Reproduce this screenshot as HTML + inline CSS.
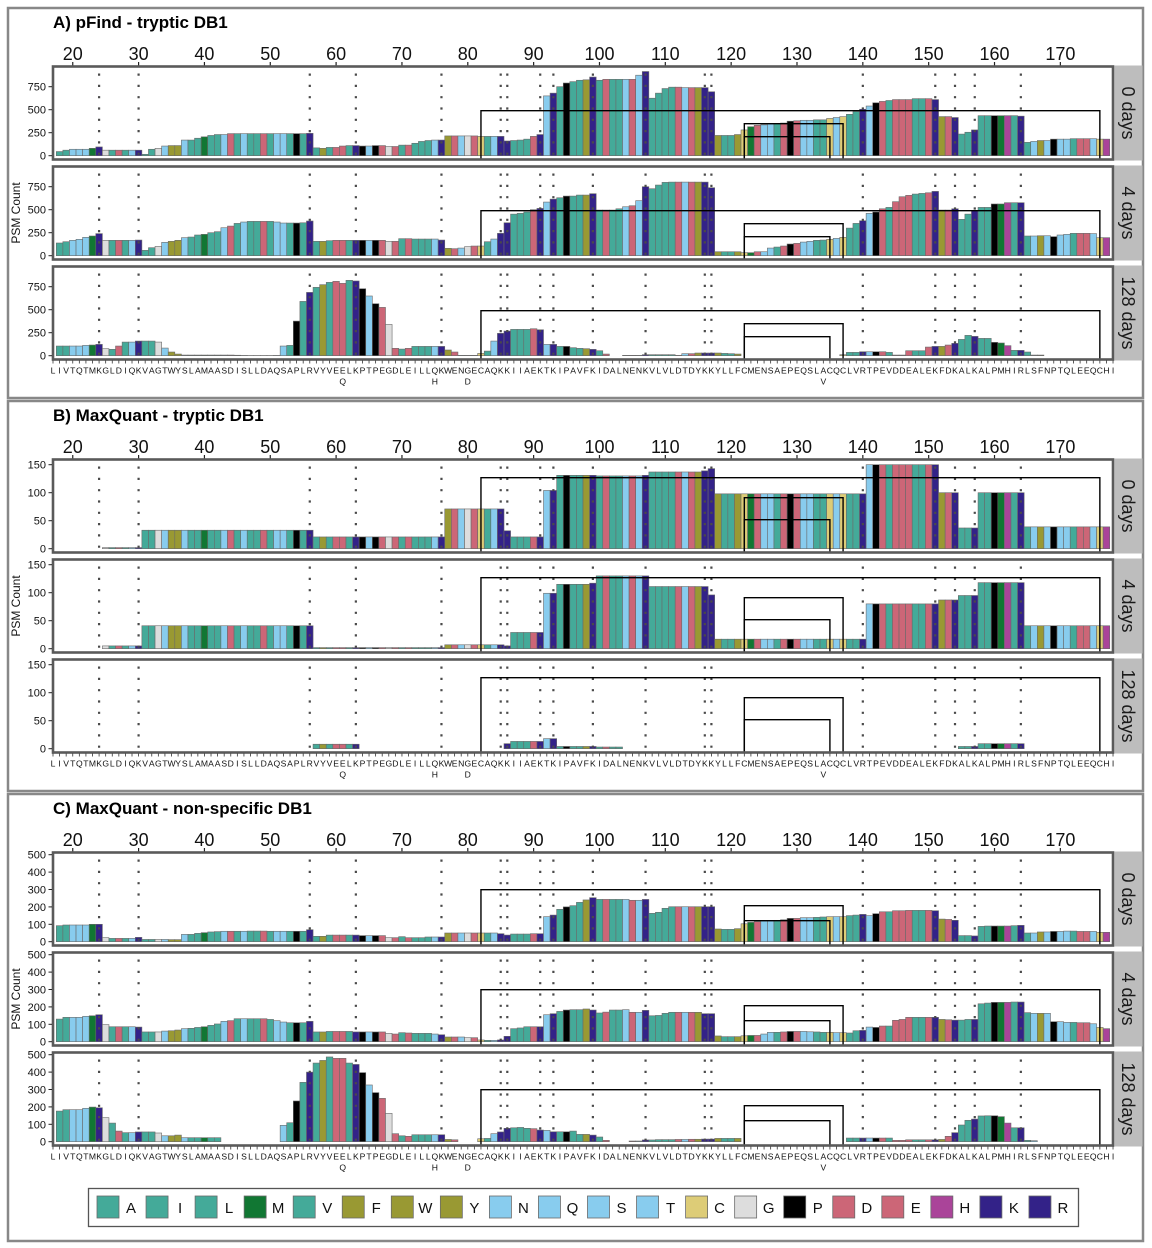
<!DOCTYPE html>
<html><head><meta charset="utf-8"><style>
html,body{margin:0;padding:0;background:#fff;}
svg{display:block;font-family:"Liberation Sans",Arial,sans-serif;}
</style></head><body>
<svg id="chart" width="1152" height="1248" viewBox="0 0 1152 1248" xmlns="http://www.w3.org/2000/svg"></svg>
<script>
const sequence = "LIVTQTMKGLDIQKVAGTWYSLAMAASDISLLDAQSAPLRVYVEELKPTPEGDLEILLQKWENGECAQKKIIAEKTKIPAVFKIDALNENKVLVLDTDYKKYLLFCMENSAEPEQSLACQCLVRTPEVDDEALEKFDKALKALPMHIRLSFNPTQLEEQCHI";
const firstPos = 17;
const variants = [[61,"Q"],[75,"H"],[80,"D"],[134,"V"]];
const xTickLabels = [20,30,40,50,60,70,80,90,100,110,120,130,140,150,160,170];
const stripLabels = ["0 days","4 days","128 days"];
const sectionTitles = ["A) pFind - tryptic DB1","B) MaxQuant - tryptic DB1","C) MaxQuant - non-specific DB1"];
const yTicksA = [0,250,500,750];
const yTicksB = [0,50,100,150];
const yTicksC = [0,100,200,300,400,500];
const disulfides = [[82,176],[122,137],[122,135]];
const legendLetters = ["A","I","L","M","V","F","W","Y","N","Q","S","T","C","G","P","D","E","H","K","R"];

// pFind tryptic, positions 17..178
const pfind0 = [0,45,60,70,70,70,80,95,60,60, 60,60,60,60,15,70,80,105,110,110, 170,170,190,205,220,230,230,240,240,240, 240,240,240,240,240,240,240,240,240,243, 85,80,90,90,105,110,110,105,105,110, 110,100,100,115,115,135,155,165,170,170, 215,215,215,215,215,210,210,210,210,160, 165,170,180,210,230,650,680,750,790,805, 820,825,855,820,830,830,830,830,830,875, 915,625,680,730,745,745,740,740,740,740, 695,220,220,220,230,280,315,330,335,345, 350,355,375,380,385,385,390,390,405,415, 425,450,480,505,540,575,590,600,610,610, 610,620,620,620,610,425,425,415,235,255, 280,435,435,435,435,435,435,430,145,155, 165,165,180,180,180,185,185,185,185,180, 180,0];
const pfind4 = [0,138,152,167,178,200,214,240,167,167, 167,167,167,170,58,87,101,145,156,167, 196,203,225,232,250,261,304,322,351,366, 373,373,373,373,366,355,355,355,358,377, 156,156,163,167,167,167,167,167,167,167, 167,156,156,185,185,181,181,181,181,170, 80,76,83,98,105,105,152,181,243,358, 452,460,475,500,514,583,615,630,648,648, 659,659,674,496,496,496,510,532,543,598, 750,728,768,797,800,800,800,800,800,800, 739,43,43,43,43,33,33,43,43,83, 94,105,127,134,148,156,167,170,178,188, 200,300,351,380,460,475,510,525,587,641, 656,670,677,684,699,496,496,510,395,452, 490,525,525,562,562,576,576,576,214,214, 217,217,207,225,232,243,243,243,240,196, 196,0];
const pfind128 = [0,105,105,105,105,112,116,123,76,69, 105,148,148,159,159,159,148,83,40,18, 7,7,7,7,7,7,7,7,5,3, 2,2,2,2,3,105,112,376,590,688, 743,772,797,808,786,819,812,728,649,565, 525,340,80,72,80,101,101,101,101,101, 62,40,4,4,4,25,50,159,243,268, 286,286,286,293,282,123,123,101,101,87, 80,76,69,54,18,0,0,4,4,4, 11,11,11,11,11,4,22,22,29,29, 29,29,25,22,18,0,0,0,0,0, 0,0,0,0,0,0,0,0,0,0, 11,36,36,43,43,43,43,36,7,7, 54,54,54,94,101,101,116,134,177,221, 210,188,188,145,138,109,58,58,40,7, 7,0,0,0,0,0,0,0,0,0, 0,0];
// MaxQuant tryptic
const mqt0 = [0,0,0,0,0,0,0,0,2,2, 2,2,2,2,33,33,33,33,33,33, 33,33,33,33,33,33,33,33,33,33, 33,33,33,33,33,33,33,33,33,33, 21,21,21,21,21,21,21,21,21,21, 21,21,21,21,21,21,21,21,21,21, 71,71,71,71,71,71,71,71,71,32, 21,21,21,21,21,104,104,131,131,131, 131,131,131,130,130,130,130,130,130,130, 131,137,137,137,137,137,137,137,137,139, 143,98,98,98,98,98,98,98,98,98, 98,98,98,98,98,98,98,98,98,98, 98,98,98,98,150,150,150,150,150,150, 150,150,150,150,150,100,100,100,37,37, 37,100,100,100,100,100,100,100,39,39, 39,39,39,39,39,39,39,39,39,39, 39,0];
const mqt4 = [0,0,0,0,0,0,0,0,5,5, 5,5,5,5,41,41,41,41,41,41, 41,41,41,41,41,41,41,41,41,41, 41,41,41,41,41,41,41,41,41,41, 2,2,2,2,2,2,2,2,2,2, 2,2,2,2,2,2,2,2,2,2, 7,7,7,7,7,7,7,7,7,5, 29,29,29,29,29,99,99,115,115,115, 115,115,117,130,130,130,130,130,130,130, 130,111,111,111,111,111,111,111,111,111, 96,17,17,17,17,17,17,17,17,17, 17,17,17,17,17,17,17,17,17,17, 17,17,17,17,80,80,80,80,80,80, 80,80,80,80,80,87,87,87,95,95, 95,118,118,118,118,118,118,118,41,41, 41,41,41,41,41,41,41,41,41,41, 41,0];
const mqt128 = [0,0,0,0,0,0,0,0,0,0, 0,0,0,0,0,0,0,0,0,0, 0,0,0,0,0,0,0,0,0,0, 0,0,0,0,0,0,0,0,0,0, 8,8,8,8,8,8,8,0,0,0, 0,0,0,0,0,0,0,0,0,0, 0,0,0,0,0,0,0,0,0,9, 13,13,13,13,13,18,18,4,4,4, 4,4,4,3,3,3,3,0,0,0, 0,0,0,0,0,0,0,0,0,0, 0,0,0,0,0,0,0,0,0,0, 0,0,0,0,0,0,0,0,0,0, 0,0,0,0,0,0,0,0,0,0, 0,0,0,0,0,0,0,0,4,4, 4,9,9,9,9,9,9,9,0,0, 0,0,0,0,0,0,0,0,0,0, 0,0];
// MaxQuant non-specific
const mqn0 = [0,92,96,96,96,96,100,100,23,19, 19,19,19,25,13,13,13,13,12,12, 42,42,48,52,56,58,60,60,60,60, 61,61,61,60,60,60,60,60,60,69, 31,31,38,38,38,38,38,35,35,35, 35,23,23,29,23,23,23,27,27,27, 50,50,50,50,50,50,50,50,46,38, 44,44,44,46,46,144,153,186,200,207, 226,240,253,243,243,243,243,243,238,238, 243,163,169,192,201,201,201,201,201,201, 201,73,71,71,75,103,111,115,119,119, 123,126,134,134,138,138,140,142,144,144, 144,150,153,157,150,161,172,172,178,178, 180,180,180,180,178,130,128,123,35,35, 33,88,90,90,90,90,92,94,50,50, 56,56,59,59,61,61,59,59,59,54, 54,0];
const mqn4 = [0,130,140,140,140,146,149,155,98,86, 86,86,86,84,56,56,56,61,63,67, 75,77,82,86,94,102,117,121,132,132, 132,132,132,128,121,113,109,109,109,117, 56,56,59,59,59,59,56,56,56,56, 56,48,44,52,50,48,48,48,44,40, 27,27,27,23,23,10,8,8,10,31, 75,79,86,86,86,155,161,174,182,184, 184,188,182,165,170,182,182,184,169,169, 180,149,151,163,169,169,169,169,169,161, 161,33,29,29,29,34,36,36,44,54, 54,56,59,59,59,57,56,54,54,52, 52,50,63,65,84,82,90,90,123,128, 140,140,140,140,140,128,126,124,124,128, 128,218,222,226,226,226,228,228,167,163, 163,163,115,115,111,111,109,109,103,82, 75,0];
const mqn128 = [0,176,184,184,184,192,199,195,138,107, 61,52,52,56,56,56,50,34,34,38, 23,23,23,23,23,23,0,0,0,0, 0,0,0,0,0,94,109,234,341,400, 452,467,487,479,479,452,444,397,326,282, 249,163,46,34,31,40,40,40,40,40, 13,11,0,0,0,17,19,46,56,77, 80,82,77,75,67,65,57,57,57,61, 42,42,38,27,8,0,0,0,4,4, 10,10,12,12,12,13,13,14,14,15, 15,19,19,19,19,0,0,0,0,0, 0,0,0,0,0,0,0,0,0,0, 0,21,21,21,21,21,21,21,8,8, 11,11,11,11,11,13,31,52,96,123, 130,148,149,149,144,107,80,80,8,6, 0,0,0,0,0,0,0,0,0,0, 0,0];

const aaColor = {A:"#44AA99",I:"#44AA99",L:"#44AA99",V:"#44AA99",M:"#117733",F:"#999933",W:"#999933",Y:"#999933",N:"#88CCEE",Q:"#88CCEE",S:"#88CCEE",T:"#88CCEE",C:"#DDCC77",G:"#DDDDDD",P:"#000000",D:"#CC6677",E:"#CC6677",H:"#AA4499",K:"#332288",R:"#332288"};

const NS = "http://www.w3.org/2000/svg";
const svg = document.getElementById("chart");
function mk(tag, attrs, parent){ const e=document.createElementNS(NS,tag); for(const k in attrs) e.setAttribute(k,attrs[k]); (parent||svg).appendChild(e); return e; }
function xOf(p){ return 53 + (p - firstPos) * 6.584; }
const BW = 6.584;

const sections = [
  {off:0, data:[pfind0,pfind4,pfind128], scale:0.092, ticks:yTicksA, br:[45,32,19], boxTop:8, boxBot:398},
  {off:393, data:[mqt0,mqt4,mqt128], scale:0.56, ticks:yTicksB, br:[71,51,29], boxTop:401, boxBot:791},
  {off:786, data:[mqn0,mqn4,mqn128], scale:0.174, ticks:yTicksC, br:[52,36,21], boxTop:794, boxBot:1241}
];
const panelTops=[66.5,166.5,266.5], panelBots=[159.5,259.5,359.5], bases=[155.7,255.7,355.7];

sections.forEach((s, si) => {
  const g = mk("g", {});
  
  
  const box = mk("rect",{x:8,y:s.boxTop,width:1135,height:s.boxBot-s.boxTop,fill:"#fff",stroke:"#888","stroke-width":2.5},g);
  
  
  const t = mk("text",{x:53,y:28+s.off,"font-size":17,"font-weight":"bold",fill:"#000"},g);
  t.textContent = sectionTitles[si];
  
  
  xTickLabels.forEach(v => {
    const xl = mk("text",{x:xOf(v),y:60+s.off,"font-size":18,"text-anchor":"middle",fill:"#111"},g);
    xl.textContent = v;
    
    
    mk("line",{x1:xOf(v),x2:xOf(v),y1:62+s.off,y2:66+s.off,stroke:"#222","stroke-width":1.2},g);
  });
  const yt = mk("text",{x:0,y:0,"font-size":12,"text-anchor":"middle",fill:"#111",transform:`translate(20,${213+s.off}) rotate(-90)`},g);
  yt.textContent = "PSM Count";
  
  

  s.data.forEach((vals, pi) => {
    const top = panelTops[pi]+s.off, bot = panelBots[pi]+s.off, base = bases[pi]+s.off;
    const pg = mk("g",{},g);
    
    
    const cid = "clip"+si+"_"+pi;
    const cp = mk("clipPath",{id:cid},pg);
    mk("rect",{x:53,y:top,width:1060,height:bot-top},cp);
    mk("rect",{x:53,y:top,width:1060,height:bot-top,fill:"#fff"},pg);
    const bg = mk("g",{"clip-path":`url(#${cid})`},pg);
    vals.forEach((v,i) => {
      if (v <= 0) return;
      const p = firstPos + i;
      const h = v * s.scale;
      const r = mk("rect",{x:xOf(p)-BW/2,y:base-h,width:BW,height:h,fill:aaColor[sequence[i]],stroke:"#6a6a6a","stroke-width":0.6},bg);
      
      
    });
    for (let i=0;i<sequence.length;i++){
      if (sequence[i]==="K"||sequence[i]==="R"){
        const x = xOf(firstPos+i);
        const dl = mk("line",{x1:x,x2:x,y1:top+7,y2:bot,stroke:"#4a4a4a","stroke-width":2.2,"stroke-dasharray":"2.2 9.1"},bg);
        
        
      }
    }
    disulfides.forEach((d,di) => {
      const y = base - s.br[di];
      const br = mk("polyline",{points:`${xOf(d[0])},${bot} ${xOf(d[0])},${y} ${xOf(d[1])},${y} ${xOf(d[1])},${bot}`,fill:"none",stroke:"#000","stroke-width":1.4},bg);
      
      
    });
    mk("rect",{x:53,y:top,width:1060,height:bot-top,fill:"none",stroke:"#5a5a5a","stroke-width":2.6},pg);
    s.ticks.forEach(tv => {
      const y = base - tv*s.scale;
      mk("line",{x1:48.5,x2:52,y1:y,y2:y,stroke:"#222","stroke-width":1},pg);
      const tl = mk("text",{x:46,y:y+4,"font-size":11,"text-anchor":"end",fill:"#111"},pg);
      tl.textContent = tv;
      
      
    });
    const sr = mk("rect",{x:1114.5,y:top-1,width:28,height:bot-top+2,fill:"#bdbdbd"},pg);
    
    
    const st = mk("text",{x:0,y:0,"font-size":18,"text-anchor":"middle",fill:"#1a1a1a",transform:`translate(1122,${(top+bot)/2}) rotate(90)`},pg);
    st.textContent = stripLabels[pi];
    
    
  });
  const sy = 359.5 + s.off;
  for (let i=0;i<sequence.length;i++){
    const x = xOf(firstPos+i);
    mk("line",{x1:x,x2:x,y1:sy+1,y2:sy+4,stroke:"#333","stroke-width":0.8},g);
    const lt = mk("text",{x:x,y:sy+14,"font-size":8.6,"text-anchor":"middle",fill:"#111"},g);
    lt.textContent = sequence[i];
    
    
  }
  variants.forEach(vv => {
    const vt = mk("text",{x:xOf(vv[0]),y:sy+25,"font-size":8.6,"text-anchor":"middle",fill:"#111"},g);
    vt.textContent = vv[1];
    
    
  });
});

const lg = mk("g",{});


mk("rect",{x:88.5,y:1188.5,width:990,height:38,fill:"#fff",stroke:"#555","stroke-width":1.3},lg);
legendLetters.forEach((L,i) => {
  const x0 = 97 + i*49.05;
  const eg = mk("g",{},lg);
  
  
  mk("rect",{x:x0,y:1196,width:22,height:22,fill:aaColor[L],stroke:"#6a6a6a","stroke-width":0.8},eg);
  const tx = mk("text",{x:x0+34,y:1213,"font-size":15,"text-anchor":"middle",fill:"#111"},eg);
  tx.textContent = L;
});
</script>
</body></html>
